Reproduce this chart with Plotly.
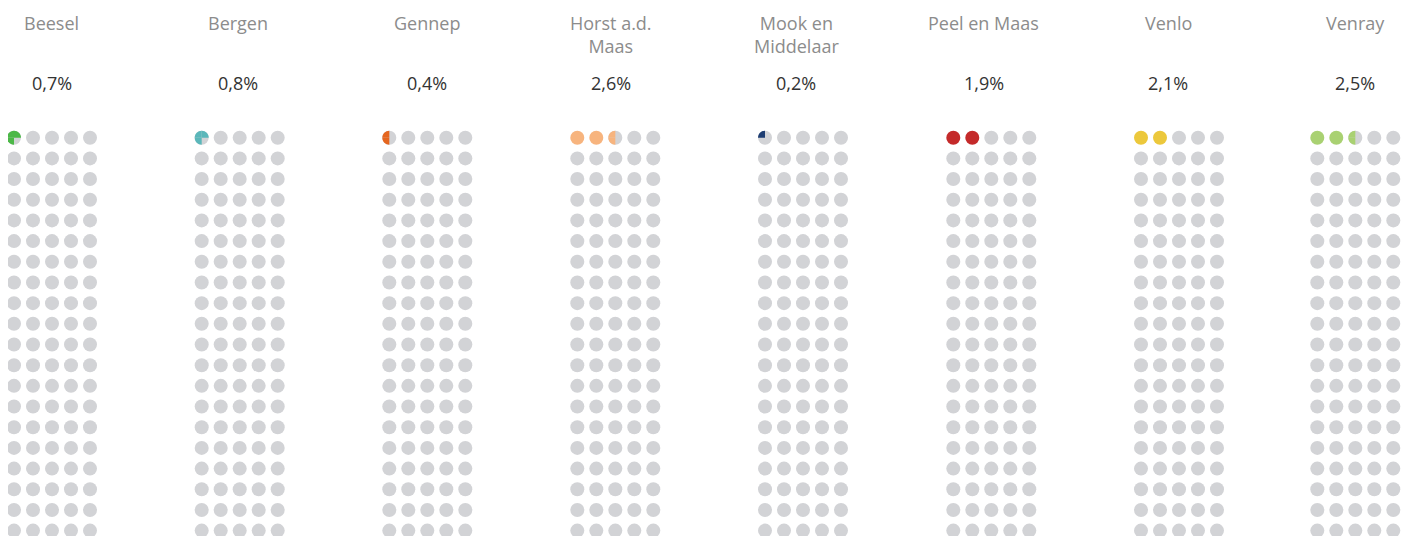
import plotly.graph_objects as go

# data
gemeenten = ["Beesel", "Bergen", "Gennep", "Horst a.d.<br>Maas", "Mook en<br>Middelaar",
             "Peel en Maas", "Venlo", "Venray"]
percentages = [0.7, 0.8, 0.4, 2.6, 0.2, 1.9, 2.1, 2.5]
colors = ["#4cb848", "#5bb7ba", "#e5661f", "#f7b47e", "#1d3d72", "#c42a2a", "#ecc83c", "#a9d172"]

GRAY = "#d2d3d6"

# layout (page pixel units; the page body has an 8px margin)
OFF = 8
group_x = [14, 201.7, 389.3, 577.3, 765, 953.3, 1141, 1317.3]
label_x = [51.5, 238, 427, 610.5, 796, 983.5, 1168, 1355]
N_COLS, N_ROWS = 5, 20
DX, DY = 19, 20.68
Y0 = 137.7
R = 7
K = 0.5523

fig = go.Figure()
shapes = []
annotations = []


def quarter_path(cx, cy, q):
    # q: 0=top-left, 1=bottom-left, 2=top-right, 3=bottom-right (y axis runs downward)
    sx = -1 if q in (0, 1) else 1
    sy = -1 if q in (0, 2) else 1
    ax, ay = cx, cy + sy * R
    bx, by = cx + sx * R, cy
    return (f"M {cx},{cy} L {ax},{ay} "
            f"C {ax + sx * K * R},{ay} {bx},{by + sy * K * R} {bx},{by} Z")


for i, (name, pct, col) in enumerate(zip(gemeenten, percentages, colors)):
    quarters = round(pct * 4)
    full, part = divmod(quarters, 4)
    xs, ys, cs = [], [], []
    for n in range(N_COLS * N_ROWS):
        r, c = divmod(n, N_COLS)
        x = group_x[i] + c * DX
        y = Y0 + r * DY
        xs.append(x)
        ys.append(y)
        cs.append(col if n < full else GRAY)
        if n == full and part:
            for q in range(part):
                shapes.append(dict(type="path", path=quarter_path(x, y, q), xref="x", yref="y",
                                   fillcolor=col, line=dict(width=0), layer="above"))
    fig.add_trace(go.Scatter(x=xs, y=ys, mode="markers", hoverinfo="skip", showlegend=False,
                             marker=dict(size=2 * R, color=cs, symbol="circle", line=dict(width=0))))

    annotations.append(dict(x=label_x[i], y=9, xref="x", yref="y", text=name, showarrow=False,
                            xanchor="center", yanchor="top", align="center",
                            font=dict(size=18, color="#8c8c8c")))
    annotations.append(dict(x=label_x[i], y=83, xref="x", yref="y",
                            text=f"{pct:.1f}%".replace(".", ","), showarrow=False,
                            xanchor="center", yanchor="middle",
                            font=dict(size=18, color="#333333")))

fig.update_layout(
    width=1410 - OFF, height=536 - OFF,
    margin=dict(l=0, r=0, t=0, b=0),
    paper_bgcolor="white", plot_bgcolor="white",
    font=dict(family="Open Sans, sans-serif"),
    xaxis=dict(range=[OFF, 1410], visible=False, fixedrange=True),
    yaxis=dict(range=[536, OFF], visible=False, fixedrange=True),
    shapes=shapes,
    annotations=annotations,
)

fig.write_html("out.html", config={"displayModeBar": False})
